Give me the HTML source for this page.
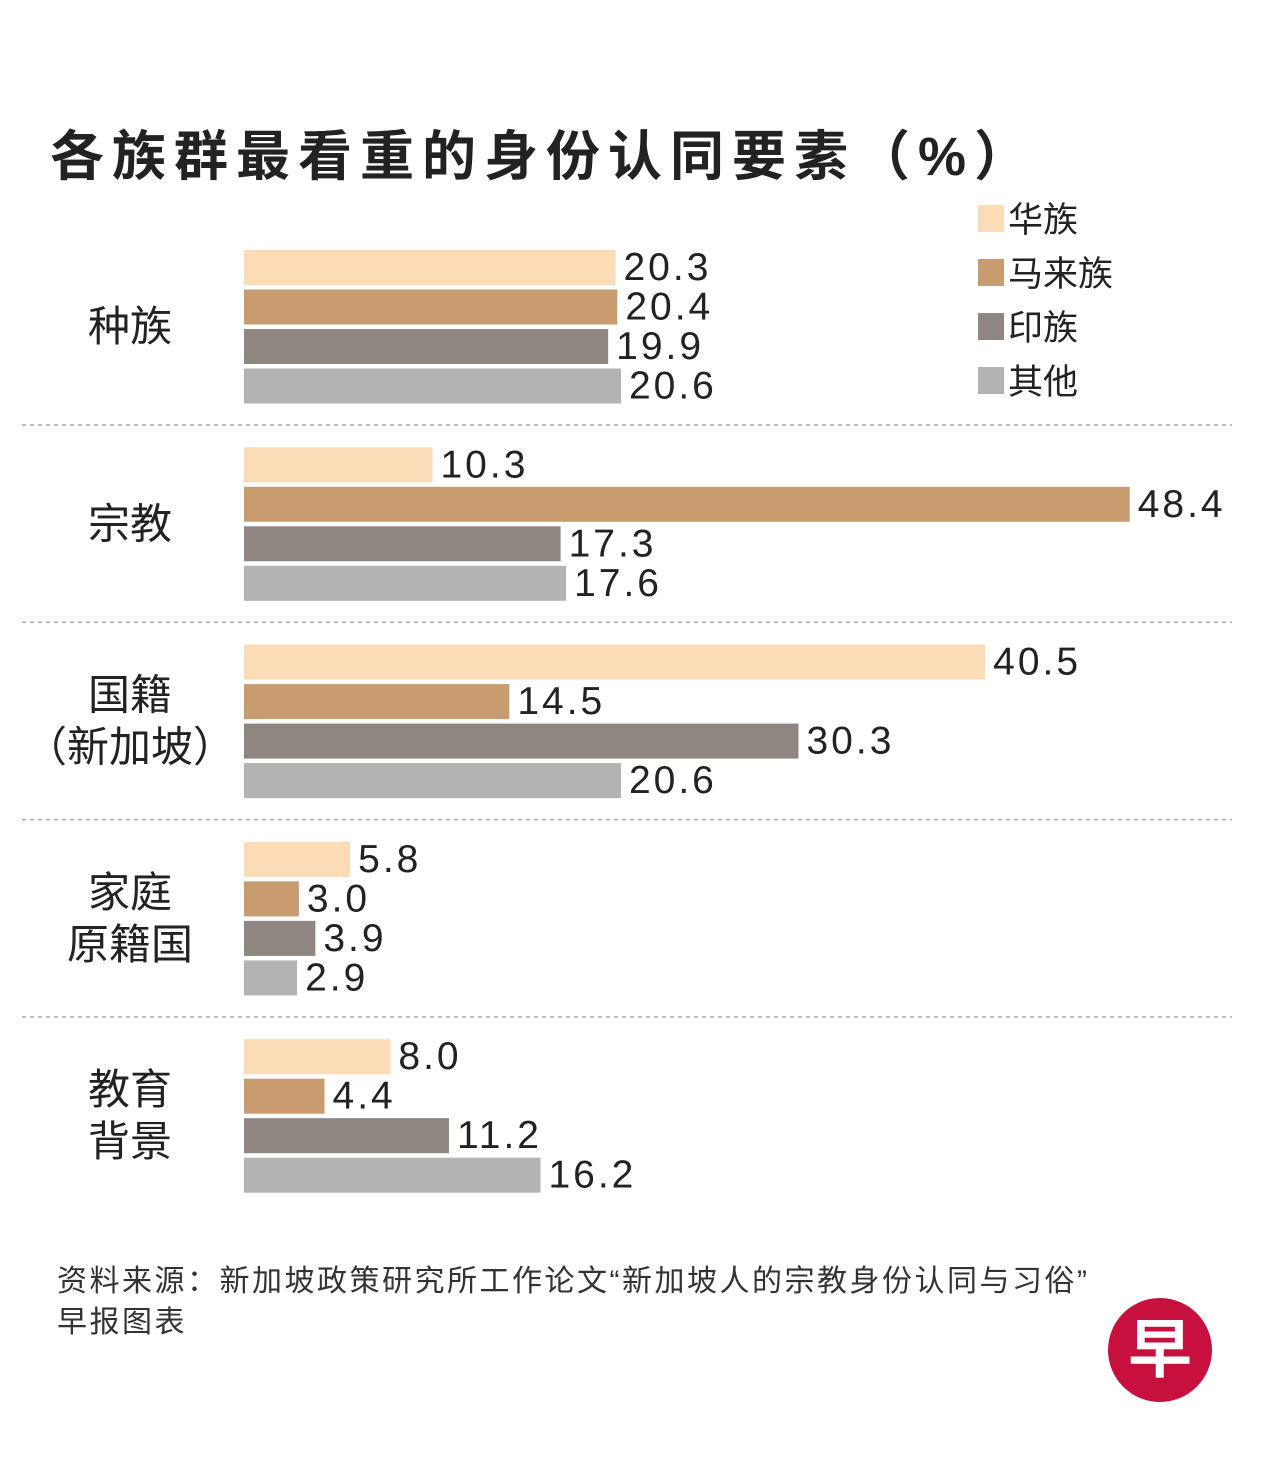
<!DOCTYPE html>
<html><head><meta charset="utf-8"><style>
body{margin:0;background:#fff;}
svg text{font-family:"Liberation Sans","Noto Sans CJK SC",sans-serif;}
</style></head><body>
<svg id="chart" width="1264" height="1452" viewBox="0 0 1264 1452" xmlns="http://www.w3.org/2000/svg">
<text x="50" y="175" font-size="54" letter-spacing="8" font-weight="bold" fill="#222">各族群最看重的身份认同要素（%）</text>
<g id="legend"></g>
<g id="bars"></g>
<g>
<text x="57" y="1291" font-size="30" letter-spacing="2.5" fill="#333">资料来源：新加坡政策研究所工作论文“新加坡人的宗教身份认同与习俗”</text>
<text x="57" y="1332" font-size="30" letter-spacing="2.5" fill="#333">早报图表</text>
</g>
<g>
<circle cx="1160" cy="1350" r="52" fill="#c8103e"/>
<text x="1160" y="1372" text-anchor="middle" font-size="64" font-weight="bold" fill="#fff">早</text>
</g>
</svg>
<script>
const categories=[["种族"],["宗教"],["国籍","（新加坡）"],["家庭","原籍国"],["教育","背景"]];
const seriesNames=["华族","马来族","印族","其他"];
const chinese=[20.3,10.3,40.5,5.8,8.0];
const malay=[20.4,48.4,14.5,3.0,4.4];
const indian=[19.9,17.3,30.3,3.9,11.2];
const others=[20.6,17.6,20.6,2.9,16.2];
const series=[chinese,malay,indian,others];
const colors=["#fcdcb6","#c99c70","#8f8581","#b3b3b3"];
const NS="http://www.w3.org/2000/svg";
const x0=244, scale=18.3;
const xPos=v=>x0+v*scale;
const groupTop=g=>250+g*197.3;
const bars=document.getElementById('bars');
function mk(tag,attrs,parent){const e=document.createElementNS(NS,tag);for(const k in attrs)e.setAttribute(k,attrs[k]);parent.appendChild(e);return e;}
categories.forEach((cat,g)=>{
  const top=groupTop(g);
  series.forEach((s,i)=>{
    const y=top+i*39.5;
    const r=mk('rect',{x:x0,y:y,width:xPos(s[g])-x0,height:35,fill:colors[i]},bars);
    
    
    const t=mk('text',{x:xPos(s[g])+8,y:y+30,'font-size':39,'letter-spacing':3,fill:'#222'},bars);
    t.textContent=s[g].toFixed(1);
    
    
  });
  const mid=top+77;
  const n=cat.length;
  cat.forEach((line,j)=>{
    const t=mk('text',{x:130,y:mid+14+(j-(n-1)/2)*52,'font-size':42,fill:'#222','text-anchor':'middle'},bars);
    t.textContent=line;
    
    
  });
  if(g<categories.length-1){
    const l=mk('line',{x1:22,x2:1232,y1:top+175,y2:top+175,stroke:'#aaa','stroke-width':1.5,'stroke-dasharray':'4 4'},bars);
    
    
  }
});
const lg=document.getElementById('legend');
seriesNames.forEach((n,i)=>{
  const y=205+i*54;
  const r=mk('rect',{x:978,y:y,width:26,height:27,fill:colors[i]},lg);
  
  
  const t=mk('text',{x:1008,y:y+27,'font-size':35,fill:'#222'},lg);
  t.textContent=n;
  
  
});
</script>
</body></html>
